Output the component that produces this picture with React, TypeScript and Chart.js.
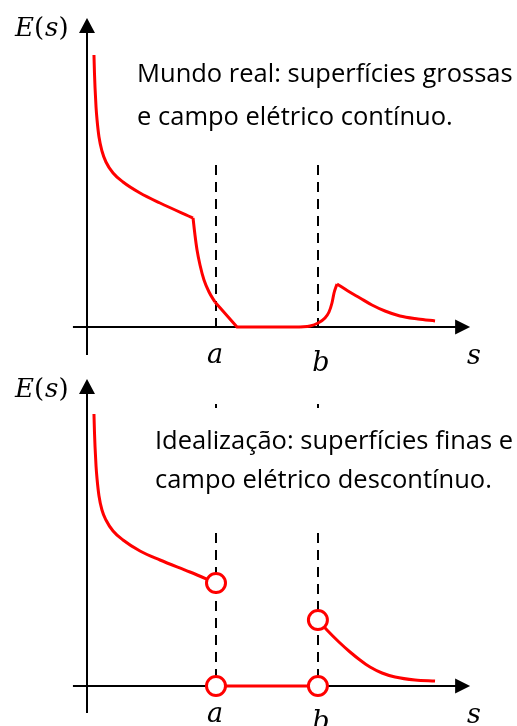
import { useEffect, useRef } from "react";
import { Chart, registerables } from "chart.js";

Chart.register(...registerables);

// Positions of the two surfaces along s
const SURFACE_A = 1.0;
const SURFACE_B = 1.79;

// Real world: thick surfaces, continuous field (pieces joined at the kinks)
const realDecayS = [0.054, 0.058, 0.062, 0.07, 0.078, 0.093, 0.116, 0.147, 0.202, 0.279, 0.411, 0.566, 0.822];
const realDecayE = [2.72, 2.535, 2.4, 2.2, 2.07, 1.9, 1.76, 1.65, 1.54, 1.45, 1.34, 1.24, 1.09];
const realDropS = [0.822, 0.837, 0.853, 0.876, 0.907, 0.946, 0.992];
const realDropE = [1.09, 0.92, 0.77, 0.62, 0.47, 0.35, 0.25];
const realGapS = [0.992, 1.163, 1.651];
const realGapE = [0.25, 0, 0];
const realRiseS = [1.651, 1.729, 1.791, 1.845, 1.876, 1.899, 1.915, 1.938];
const realRiseE = [0, 0.01, 0.04, 0.09, 0.15, 0.24, 0.34, 0.43];
const realTailS = [1.938, 2.023, 2.116, 2.209, 2.31, 2.426, 2.566, 2.698];
const realTailE = [0.43, 0.36, 0.29, 0.22, 0.16, 0.11, 0.08, 0.06];

// Idealisation: thin surfaces, discontinuous field
const idealLeftS = [0.054, 0.058, 0.062, 0.07, 0.078, 0.093, 0.116, 0.147, 0.202, 0.279, 0.411, 0.566, 0.798, SURFACE_A];
const idealLeftE = [2.72, 2.535, 2.4, 2.2, 2.07, 1.9, 1.76, 1.66, 1.55, 1.46, 1.35, 1.26, 1.14, 1.03];
const idealGapS = [SURFACE_A, SURFACE_B];
const idealGapE = [0, 0];
const idealRightS = [SURFACE_B, 1.86, 1.953, 2.039, 2.116, 2.194, 2.287, 2.388, 2.543, 2.698];
const idealRightE = [0.66, 0.56, 0.44, 0.34, 0.26, 0.19, 0.13, 0.09, 0.06, 0.05];
const openS = [SURFACE_A, SURFACE_B, SURFACE_A, SURFACE_B];
const openE = [1.03, 0.66, 0, 0];

// Text
const captionReal = ["Mundo real: superfícies grossas", "e campo elétrico contínuo."];
const captionIdeal = ["Idealização: superfícies finas e", "campo elétrico descontínuo."];
const surfaceLabels = ["a", "b"];
const axisLabelS = "s";

const RED = "#ff0000";
const INK = "#000000";
const MATH_FONT = '"DejaVu Serif", "Liberation Serif", serif';
const TEXT_FONT = '"Open Sans", Lato, sans-serif';

// Pixel layout: 1 unit of s = 129 px, 1 unit of E = 100 px
const W = 517;
const H = 726;
const S_UNIT = 129;
const E_UNIT = 100;
const ORIGIN_X = 87;
const TOP_AXIS_Y = 327;
const BOTTOM_AXIS_Y = 686;

const pts = (xs: number[], ys: number[]) => xs.map((x, i) => ({ x, y: ys[i] }));

const curve = (xs: number[], ys: number[], yAxisID: string, smooth = true) => ({
  type: "line" as const,
  data: pts(xs, ys),
  yAxisID,
  borderColor: RED,
  borderWidth: 3,
  pointRadius: 0,
  fill: false,
  order: 1,
  cubicInterpolationMode: smooth ? ("monotone" as const) : ("default" as const),
  tension: 0,
  borderCapStyle: "butt" as const,
  borderJoinStyle: "round" as const,
});

const openCircles = (xs: number[], ys: number[]) => ({
  type: "scatter" as const,
  data: pts(xs, ys),
  yAxisID: "yBot",
  pointRadius: 9.5,
  pointBorderWidth: 3,
  pointBackgroundColor: "#ffffff",
  pointBorderColor: RED,
  showLine: false,
  order: 0,
});

type Panel = {
  yAxisID: string;
  guides: number[][];
  yAxisFrom: number;
  yAxisTo: number;
  caption: string[];
  captionS: number;
  captionE: number;
  captionGap: number;
};

const panels: Panel[] = [
  {
    yAxisID: "yTop",
    guides: [[1.62, -0.08]],
    yAxisFrom: -0.28,
    yAxisTo: 3.09,
    caption: captionReal,
    captionS: 0.388,
    captionE: 2.45,
    captionGap: 43,
  },
  {
    yAxisID: "yBot",
    guides: [
      [2.82, 2.78],
      [1.53, -0.08],
    ],
    yAxisFrom: -0.27,
    yAxisTo: 3.07,
    caption: captionIdeal,
    captionS: 0.527,
    captionE: 2.37,
    captionGap: 39,
  },
];

function arrowHead(
  ctx: CanvasRenderingContext2D,
  tipX: number,
  tipY: number,
  dx: number,
  dy: number,
  len: number,
  half: number
) {
  const bx = tipX - dx * len;
  const by = tipY - dy * len;
  const nx = -dy;
  const ny = dx;
  ctx.beginPath();
  ctx.moveTo(tipX, tipY);
  ctx.lineTo(bx + nx * half, by + ny * half);
  ctx.lineTo(bx - nx * half, by - ny * half);
  ctx.closePath();
  ctx.fill();
}

const sketchPlugin = {
  id: "sketch",
  beforeDatasetsDraw(chart: any) {
    const ctx: CanvasRenderingContext2D = chart.ctx;
    const xs = chart.scales.x;
    ctx.save();
    for (const p of panels) {
      const ys = chart.scales[p.yAxisID];
      // dashed guides at the surfaces
      ctx.strokeStyle = INK;
      ctx.lineWidth = 2;
      ctx.setLineDash([10, 7]);
      for (const s of [SURFACE_A, SURFACE_B]) {
        const px = Math.round(xs.getPixelForValue(s));
        for (const [e0, e1] of p.guides) {
          ctx.beginPath();
          ctx.moveTo(px, ys.getPixelForValue(e0));
          ctx.lineTo(px, ys.getPixelForValue(e1));
          ctx.stroke();
        }
      }
      ctx.setLineDash([]);
      // s axis
      const y0 = Math.round(ys.getPixelForValue(0));
      const xStart = xs.getPixelForValue(-0.109);
      const xTip = xs.getPixelForValue(2.97);
      ctx.beginPath();
      ctx.moveTo(xStart, y0);
      ctx.lineTo(xTip - 10, y0);
      ctx.stroke();
      ctx.fillStyle = INK;
      arrowHead(ctx, xTip, y0, 1, 0, 15, 7.5);
      // E axis
      const x0 = Math.round(xs.getPixelForValue(0));
      const yTip = ys.getPixelForValue(p.yAxisTo);
      ctx.beginPath();
      ctx.moveTo(x0, ys.getPixelForValue(p.yAxisFrom));
      ctx.lineTo(x0, yTip + 10);
      ctx.stroke();
      arrowHead(ctx, x0, yTip, 0, -1, 15, 8);
    }
    ctx.restore();
  },
  afterDatasetsDraw(chart: any) {
    const ctx: CanvasRenderingContext2D = chart.ctx;
    const xs = chart.scales.x;
    ctx.save();
    ctx.fillStyle = INK;
    ctx.textBaseline = "alphabetic";
    for (const p of panels) {
      const ys = chart.scales[p.yAxisID];
      const x0 = xs.getPixelForValue(0);
      const y0 = ys.getPixelForValue(0);
      const yTip = ys.getPixelForValue(p.yAxisTo);

      // E(s) label beside the arrow
      const parts: [string, boolean][] = [
        ["E", true],
        ["(", false],
        ["s", true],
        [")", false],
      ];
      let cx = x0 - 72;
      ctx.textAlign = "left";
      for (const [t, it] of parts) {
        ctx.font = `${it ? "italic " : ""}26px ${MATH_FONT}`;
        ctx.fillText(t, cx, yTip + 18);
        cx += ctx.measureText(t).width + (t === "(" ? 1 : 0);
      }

      // surface and axis labels
      ctx.textAlign = "center";
      ctx.font = `italic 27px ${MATH_FONT}`;
      ctx.fillText(surfaceLabels[0], xs.getPixelForValue(SURFACE_A) - 1, y0 + 36);
      ctx.fillText(surfaceLabels[1], xs.getPixelForValue(SURFACE_B) + 3, y0 + 44);
      ctx.fillText(axisLabelS, xs.getPixelForValue(3.0), y0 + 37);

      // caption
      ctx.textAlign = "left";
      ctx.font = `25.5px ${TEXT_FONT}`;
      const tx = xs.getPixelForValue(p.captionS);
      const ty = ys.getPixelForValue(p.captionE);
      p.caption.forEach((line, i) => ctx.fillText(line, tx, ty + i * p.captionGap));
    }
    ctx.restore();
  },
};

export default function App() {
  const ref = useRef<HTMLCanvasElement | null>(null);

  useEffect(() => {
    if (!ref.current) return;
    const chart = new Chart(ref.current, {
      type: "line",
      data: {
        datasets: [
          openCircles(openS.slice(0, 2), openE.slice(0, 2)),
          openCircles(openS.slice(2), openE.slice(2)),
          curve(realDecayS, realDecayE, "yTop"),
          curve(realDropS, realDropE, "yTop"),
          curve(realGapS, realGapE, "yTop", false),
          curve(realRiseS, realRiseE, "yTop"),
          curve(realTailS, realTailE, "yTop"),
          curve(idealLeftS, idealLeftE, "yBot"),
          curve(idealGapS, idealGapE, "yBot", false),
          curve(idealRightS, idealRightE, "yBot"),
        ] as any,
      },
      options: {
        responsive: false,
        animation: false,
        events: [],
        layout: { padding: 0, autoPadding: false },
        plugins: {
          legend: { display: false },
          title: { display: false },
          tooltip: { enabled: false },
        },
        scales: {
          x: {
            type: "linear",
            display: false,
            min: -ORIGIN_X / S_UNIT,
            max: (W - ORIGIN_X) / S_UNIT,
          },
          yTop: {
            type: "linear",
            display: false,
            min: (TOP_AXIS_Y - H) / E_UNIT,
            max: TOP_AXIS_Y / E_UNIT,
          },
          yBot: {
            type: "linear",
            display: false,
            min: (BOTTOM_AXIS_Y - H) / E_UNIT,
            max: BOTTOM_AXIS_Y / E_UNIT,
          },
        },
      } as any,
      plugins: [sketchPlugin],
    });
    return () => chart.destroy();
  }, []);

  return (
    <div style={{ position: "absolute", left: 0, top: 0, width: W, height: H, background: "#fff" }}>
      <canvas ref={ref} width={W} height={H} style={{ display: "block", width: W, height: H }} />
    </div>
  );
}
